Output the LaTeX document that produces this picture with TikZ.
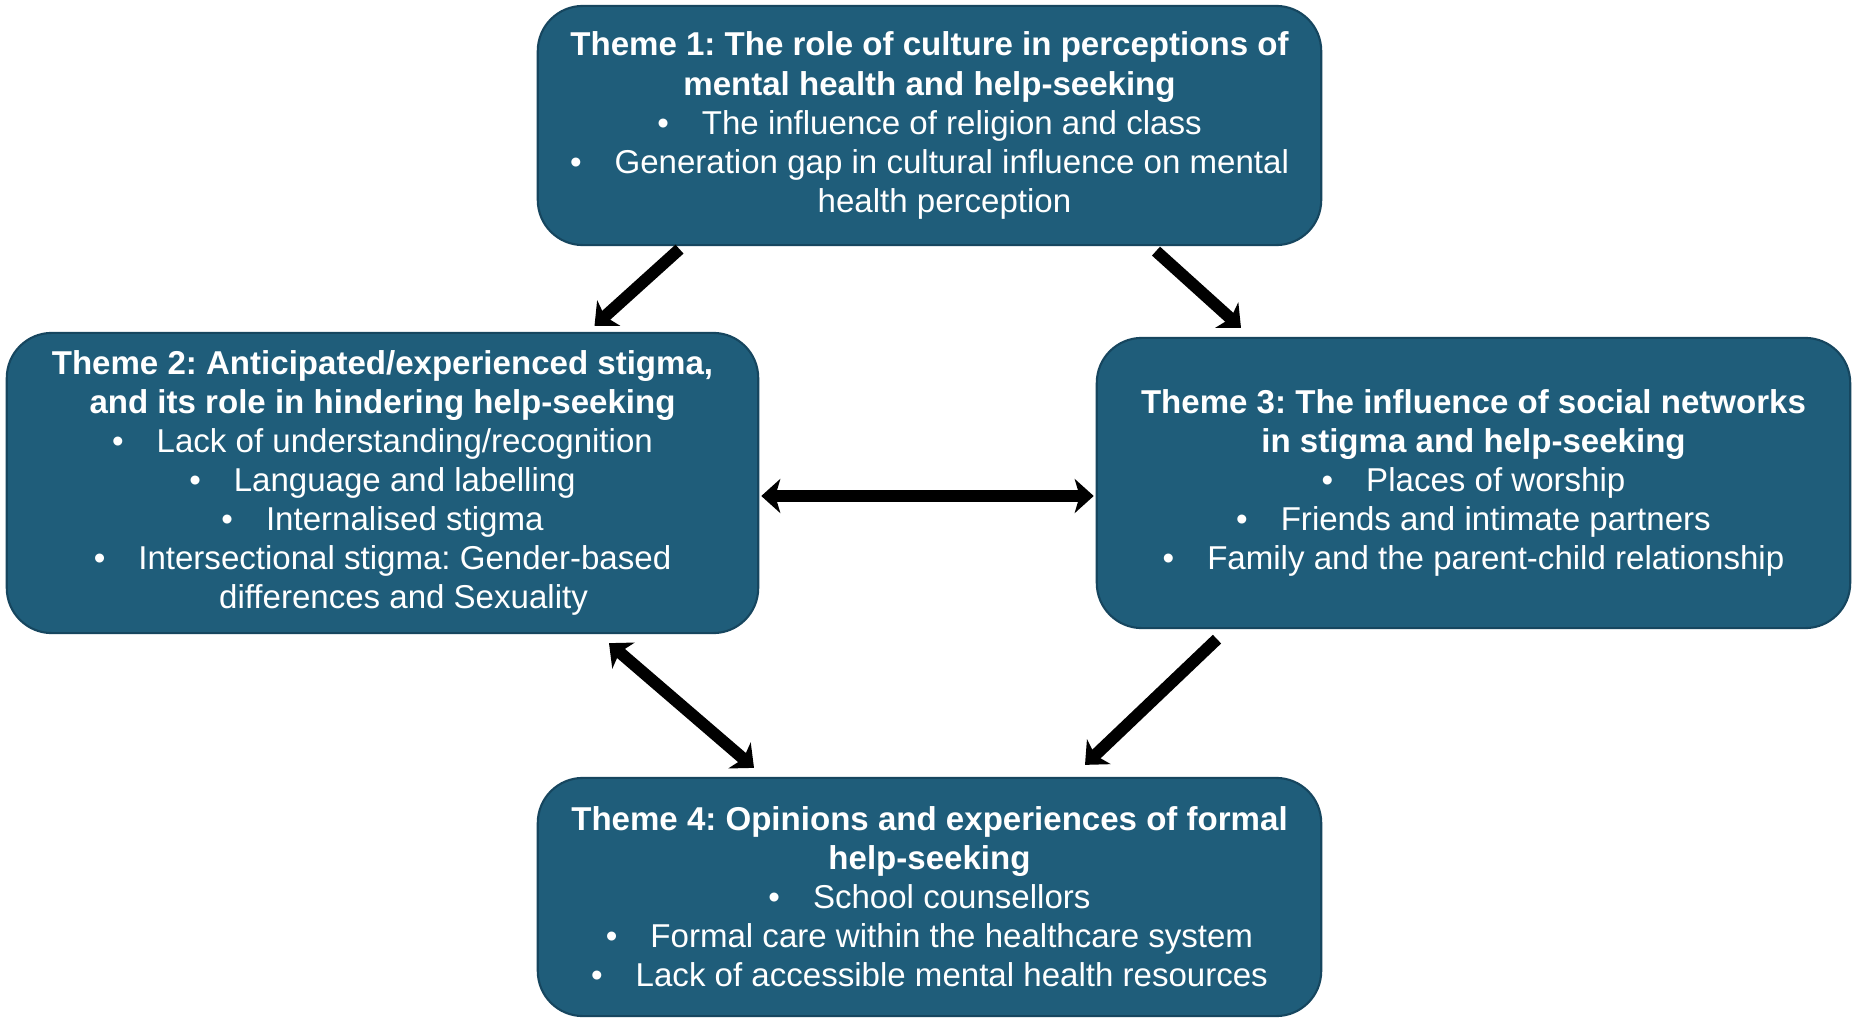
\documentclass[tikz,border=0pt]{standalone}
\usepackage{fontspec}
\setmainfont{Liberation Sans}
\usetikzlibrary{arrows.meta,calc}
\definecolor{boxblue}{RGB}{31,93,122}
\definecolor{boxedge}{RGB}{22,70,95}
\newcommand{\bul}{\textbullet\hspace{0.33cm}}
\frenchspacing
\begin{document}
\begin{tikzpicture}[x=0.01cm,y=-0.01cm,
  theme/.style={rectangle, rounded corners=0.45cm, fill=boxblue, draw=boxedge, line width=0.6pt,
    text=white, align=center, inner sep=0pt, font=\fontsize{9.4pt}{11.1pt}\selectfont},
  tip/.style={Stealth[length=0.19cm,width=0.34cm,inset=0.05cm]},
  conn/.style={line width=0.12cm, black, -{Stealth[length=0.19cm,width=0.34cm,inset=0.05cm]}},
  conn2/.style={line width=0.12cm, black, {Stealth[length=0.19cm,width=0.34cm,inset=0.05cm]}-{Stealth[length=0.19cm,width=0.34cm,inset=0.05cm]}}
]
\useasboundingbox (0,0) rectangle (1853,1021);
\fill[white] (0,0) rectangle (1853,1021);

\node[theme, minimum width=7.83cm, minimum height=2.39cm] (b1) at (929.5,125.5)
 {\textbf{Theme 1: The role of culture in perceptions of}\\
  \textbf{mental health and help-seeking}\\
  \bul The influence of religion and class\\
  \bul Generation gap in cultural influence on mental\\
  \hspace*{0.3cm}health perception};

\node[theme, minimum width=7.51cm, minimum height=3.00cm] (b2) at (382.5,483)
 {\textbf{Theme 2: Anticipated/experienced stigma,}\\
  \textbf{and its role in hindering help-seeking}\\
  \bul Lack of understanding/recognition\\
  \bul Language and labelling\\
  \bul Internalised stigma\\
  \bul Intersectional stigma: Gender-based\\
  \hspace*{0.42cm}differences and Sexuality};

\node[theme, minimum width=7.53cm, minimum height=2.90cm] (b3) at (1473.5,483)
 {\textbf{Theme 3: The influence of social networks}\\
  \textbf{in stigma and help-seeking}\\
  \bul Places of worship\\
  \bul Friends and intimate partners\\
  \bul Family and the parent-child relationship};

\node[theme, minimum width=7.83cm, minimum height=2.38cm] (b4) at (929.5,897)
 {\textbf{Theme 4: Opinions and experiences of formal}\\
  \textbf{help-seeking}\\
  \bul School counsellors\\
  \bul Formal care within the healthcare system\\
  \bul Lack of accessible mental health resources};

\draw[conn] ([shift={(-250,3)}]b1.south) -- ([shift={(212,-6)}]b2.north);
\draw[conn] ([shift={(226.5,5)}]b1.south) -- ([shift={(-232.5,-9)}]b3.north);
\draw[conn2] ([shift={(2,13)}]b2.east) -- ([shift={(-2,13)}]b3.west);
\draw[conn2] ([shift={(226.5,9)}]b2.south) -- ([shift={(-175.5,-9)}]b4.north);
\draw[conn] ([shift={(-256.5,10)}]b3.south) -- ([shift={(155.5,-12)}]b4.north);
\end{tikzpicture}
\end{document}
